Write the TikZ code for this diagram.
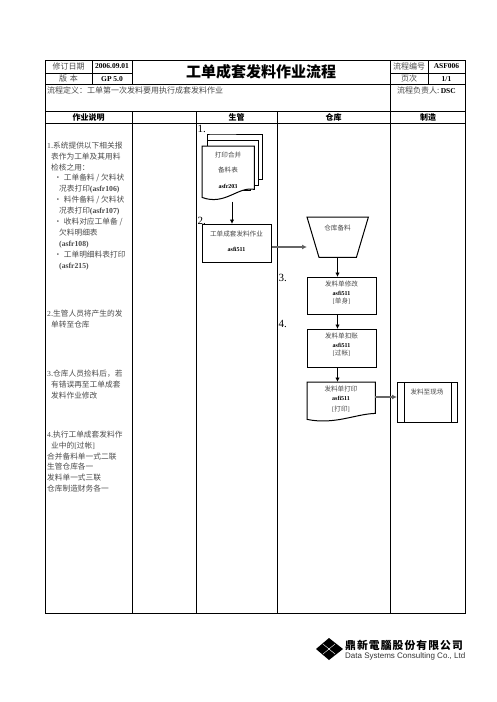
\documentclass[tikz,border=0pt]{standalone}
\usepackage{fontspec}
\setmainfont{Noto Sans CJK SC}
\newfontfamily\lat{Liberation Serif}
\newfontfamily\latsans{Liberation Sans}
\usetikzlibrary{arrows.meta,calc}
\newcommand{\La}[1]{{\lat\bfseries #1}}
\newcommand{\Lb}[1]{{\lat #1}}
\newcommand{\fc}{\symbol{"FF1A}}
\newcommand{\fk}{\symbol{"FF0C}}
\definecolor{ink}{HTML}{4A4A4A}
\tikzset{
  grid/.style={line width=1pt,black},
  txt/.style={inner sep=0pt,text=ink,font=\fontsize{6.6}{8}\selectfont},
  hdr/.style={inner sep=0pt,text=ink,font=\fontsize{8}{10}\selectfont},
  hdrb/.style={inner sep=0pt,text=black,font=\fontsize{8}{10}\selectfont\bfseries},
  num/.style={inner sep=0pt,text=black,font=\fontsize{7.5}{9}\lat\bfseries},
  code/.style={inner sep=0pt,text=black,font=\fontsize{6}{8}\lat\bfseries},
  stepno/.style={inner sep=0pt,text=black,anchor=west,font=\fontsize{11}{12}\lat},
  para/.style={inner sep=0pt,anchor=north west,align=left,text=ink,font=\fontsize{7.7}{10.9}\selectfont},
  flowbox/.style={draw,line width=1pt,fill=white,inner sep=0pt,anchor=north west},
  ghost/.style={inner sep=0pt,anchor=north west},
  link/.style={line width=1pt,-{Latex[length=4.5pt,width=4.5pt]}},
  thicklink/.style={line width=2pt,draw=black!60,-{Latex[length=5pt,width=5pt,fill=black]}},
}
\begin{document}
\begin{tikzpicture}[x=1pt,y=-1pt]
\useasboundingbox (0,0) rectangle (496,702);
% table
\draw[grid] (45.5,60) rectangle (465.5,613.5);
\draw[grid] (45.5,84.5) -- (465.5,84.5);
\draw[grid] (45.5,111) -- (465.5,111);
\draw[grid] (45.5,123) -- (465.5,123);
\draw[grid] (45.5,73) -- (132,73);
\draw[grid] (390.5,73) -- (465.5,73);
\draw[grid] (92,60) -- (92,84.5);
\draw[grid] (132,60) -- (132,84.5);
\draw[grid] (390.5,60) -- (390.5,613.5);
\draw[grid] (428,60) -- (428,84.5);
\draw[grid] (132,111) -- (132,613.5);
\draw[grid] (196,111) -- (196,613.5);
\draw[grid] (277,111) -- (277,613.5);
% header
\node[hdr] (h1) at (68.5,66.5) {修订日期};
\node[hdr] (h2) at (68.5,78.5) {版\,\,本};
\node[num] (h3) at (112,66.5) {2006.09.01};
\node[num] (h4) at (112,79) {GP 5.0};
\node[inner sep=0pt,font=\fontsize{15}{17}\selectfont\bfseries] (title) at (261,72) {工单成套发料作业流程};
\node[hdr] (h5) at (409,66.5) {流程编号};
\node[num] (h6) at (446.5,66.5) {ASF006};
\node[hdr] (h7) at (409,78.5) {页次};
\node[num] (h8) at (446.5,79) {1/1};
\node[hdr,anchor=west] (def) at (47,90) {流程定义\fc 工单第一次发料要用执行成套发料作业};
\node[hdr,anchor=west] (owner) at (397,90) {流程负责人:\,{\fontsize{7.5}{9}\lat\bfseries\color{black}DSC}};
\node[hdrb] (c1) at (88.5,117) {作业说明};
\node[hdrb] (c3) at (236.5,117) {生管};
\node[hdrb] (c4) at (333.5,117) {仓库};
\node[hdrb] (c5) at (428,117) {制造};
% description
\node[para] (p1) at (47,141.5) {\Lb{1}.系统提供以下相关报\\
\hspace*{4pt}表作为工单及其用料\\
\hspace*{4pt}检核之用\fc\\
\hspace*{7pt}·\hspace*{2pt}工单备料 / 欠料状\\
\hspace*{12pt}况表打印\La{(asfr106)}\\
\hspace*{7pt}·\hspace*{2pt}料件备料 / 欠料状\\
\hspace*{12pt}况表打印\La{(asfr107)}\\
\hspace*{7pt}·\hspace*{2pt}收料对应工单备 /\\
\hspace*{12pt}欠料明细表\\
\hspace*{12pt}\La{(asfr108)}\\
\hspace*{7pt}·\hspace*{2pt}工单明细料表打印\\
\hspace*{12pt}\La{(asfr215)}};
\node[para] (p2) at (47,309.5) {\Lb{2}.生管人员将产生的发\\
\hspace*{4pt}单转至仓库};
\node[para] (p3) at (47,369.5) {\Lb{3}.仓库人员捡料后\fk 若\\
\hspace*{4pt}有错误再至工单成套\\
\hspace*{4pt}发料作业修改};
\node[para] (p4) at (47,430.5) {\Lb{4}.执行工单成套发料作\\
\hspace*{4pt}业中的\Lb{[}过帐\Lb{]}\\
合并备料单一式二联\\
生管仓库各一\\
发料单一式三联\\
仓库制造财务各一};
% step numbers
\node[stepno] (n1) at (197.5,128.5) {1.};
\node[stepno] (n2) at (197.5,221) {2.};
\node[stepno] (n3) at (278.5,278) {3.};
\node[stepno] (n4) at (278.5,324) {4.};
% document stack
\draw[line width=1pt,fill=white] (211,134) -- (262,134) -- (262,179) -- (255,179) -- (255,185) -- (207,185) -- (207,134) -- cycle;
\draw[line width=1pt,fill=white] (207,140) -- (258,140) -- (258,185) -- (250,185) -- (250,190) -- (207,190) -- cycle;
\node[ghost,minimum width=52pt,minimum height=51pt] (doca) at (202,146) {};
\draw[line width=1pt,fill=white] (doca.north west) -- (doca.north east) -- ($(doca.south east)+(0,-8)$)
  .. controls (238,186) and (225,206) .. (doca.south west) -- cycle;
\node[txt] (da1) at (228,155) {打印合并};
\node[txt] (da2) at (228,170) {备料表};
\node[code] (da3) at (228,186) {asfr203};
% box 1
\node[flowbox,minimum width=69pt,minimum height=38pt] (box1) at (202,224) {};
\node[txt] (b11) at (236.5,234) {工单成套发料作业};
\node[code] (b12) at (236.5,249) {asfi511};
\coordinate (doctail) at (232,201.5);
\draw[link] (doctail) -- (doctail |- box1.north);
% trapezium
\node[ghost,minimum width=61pt,minimum height=40pt] (trap) at (307,217) {};
\draw[line width=1pt] (trap.north west) -- (trap.north east) -- ($(trap.south east)+(-12,0)$) -- ($(trap.south west)+(12,0)$) -- cycle;
\node[txt] (t1) at (337.5,228) {仓库备料};
\coordinate (trapin) at (307,247);
\draw[thicklink] (box1.east |- trapin) -- (trapin);
% box 2
\node[flowbox,minimum width=69pt,minimum height=37pt] (box2) at (307,277) {};
\node[txt] (b21) at (341.5,284) {发料单修改};
\node[code] (b22) at (341.5,293.5) {asfi511};
\node[txt] (b23) at (341.5,301.5) {\Lb{[}单身\Lb{]}};
% box 3
\node[flowbox,minimum width=69pt,minimum height=38pt] (box3) at (307,329) {};
\node[txt] (b31) at (341.5,336) {发料单扣账};
\node[code] (b32) at (341.5,345) {asfi511};
\node[txt] (b33) at (341.5,353) {\Lb{[}过帐\Lb{]}};
% doc 2
\node[ghost,minimum width=68pt,minimum height=37pt] (docb) at (307,382) {};
\draw[line width=1pt,fill=white] (docb.north west) -- (docb.north east) -- ($(docb.south east)+(0,-6)$)
  .. controls (355,414) and (335,425) .. (docb.south west) -- cycle;
\node[txt] (d1) at (341,389) {发料单打印};
\node[code] (d2) at (341,398) {asfi511};
\node[txt] (d3) at (341,409) {\Lb{[}打印\Lb{]}};
% process
\node[flowbox,minimum width=60pt,minimum height=40pt] (proc) at (397,382) {};
\draw[line width=1pt] ($(proc.north west)+(7,0)$) -- ($(proc.south west)+(7,0)$);
\draw[line width=1pt] ($(proc.north east)+(-7,0)$) -- ($(proc.south east)+(-7,0)$);
\node[txt] (pr) at (427,392) {发料至现场};
% connectors
\coordinate (axis) at (337.5,0);
\draw[link] (trap.south -| axis) -- (box2.north -| axis);
\draw[link] (box2.south -| axis) -- (box3.north -| axis);
\draw[link] (box3.south -| axis) -- (docb.north -| axis);
\coordinate (procy) at (0,397);
\coordinate (procin) at (proc.west |- procy);
\draw[thicklink] (docb.east |- procin) -- (procin);
% logo
\fill[black] (329,638) -- (343,649) -- (329,660) -- (316,649) -- cycle;
\draw[white,line width=0.4pt] (323,644) -- (335,654) (323,654) -- (335,644);
\fill[white] (329,649) circle (0.8);
\node[inner sep=0pt,anchor=west,font=\fontsize{10.8}{13}\selectfont\bfseries\addfontfeature{LetterSpace=10}] (logo1) at (345,645.5) {鼎新電腦股份有限公司};
\node[inner sep=0pt,anchor=west,text=black!80,font=\fontsize{8}{9}\latsans] (logo2) at (345,656.5) {Data Systems Consulting Co., Ltd};
\end{tikzpicture}
\end{document}
